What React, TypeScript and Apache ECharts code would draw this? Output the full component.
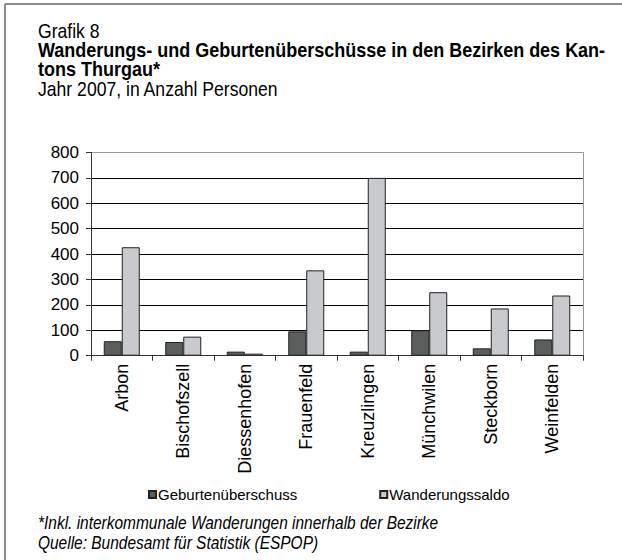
import React, { useEffect, useRef } from "react";
import * as echarts from "echarts";

const categories = ["Arbon", "Bischofszell", "Diessenhofen", "Frauenfeld", "Kreuzlingen", "Münchwilen", "Steckborn", "Weinfelden"];
const geburten = [57, 54, 16, 96, 16, 100, 29, 64];
const wanderung = [427, 75, 8, 336, 700, 250, 186, 237];
const seriesNames = ["Geburtenüberschuss", "Wanderungssaldo"];
const yTicks = { min: 0, max: 800, interval: 100 };

const FONT = "'Liberation Sans', Arial, sans-serif";

export default function App() {
  const ref = useRef<HTMLDivElement>(null);
  useEffect(() => {
    if (!ref.current) return;
    const chart = echarts.init(ref.current, undefined, { renderer: "svg" });
    const txt = (x: number, baseline: number, text: string, size: number, sx: number, weight = "normal", style = "normal") => ({
      type: "text",
      x,
      y: baseline + Math.round(size * 0.22),
      scaleX: sx,
      style: { text, fontFamily: FONT, fontSize: size, fontWeight: weight, fontStyle: style, fill: "#000", verticalAlign: "bottom" },
    });
    chart.setOption({
      animation: false,
      backgroundColor: "#fff",
      textStyle: { fontFamily: FONT },
      graphic: [
        { type: "line", shape: { x1: 5, y1: 4, x2: 622, y2: 4 }, style: { stroke: "#8a8a8a", lineWidth: 2 } },
        { type: "line", shape: { x1: 5, y1: 4, x2: 5, y2: 560 }, style: { stroke: "#8a8a8a", lineWidth: 2 } },
        txt(38, 37, "Grafik 8", 20, 0.88),
        txt(38, 56, "Wanderungs- und Geburtenüberschüsse in den Bezirken des Kan-", 20, 0.9, "bold"),
        txt(38, 75, "tons Thurgau*", 20, 0.9, "bold"),
        txt(38, 95, "Jahr 2007, in Anzahl Personen", 20, 0.88),
        txt(38, 528, "*Inkl. interkommunale Wanderungen innerhalb der Bezirke", 18, 0.86, "normal", "italic"),
        txt(38, 548, "Quelle: Bundesamt für Statistik (ESPOP)", 18, 0.86, "normal", "italic"),
      ],
      grid: { left: 91, right: 39, top: 152.5, bottom: 204.3, containLabel: false },
      legend: {
        left: 143,
        top: 482,
        itemWidth: 7,
        itemHeight: 7,
        itemGap: 82,
        icon: "rect",
        textStyle: { fontSize: 15, fontFamily: FONT, color: "#000", padding: [0, 0, 0, -3] },
        data: seriesNames,
      },
      xAxis: [
        {
          type: "category",
          data: categories,
          axisLine: { lineStyle: { color: "#333", width: 1 } },
          axisTick: { show: true, length: 5, lineStyle: { color: "#333" } },
          axisLabel: { rotate: 90, fontSize: 18, color: "#000", margin: 8, fontFamily: FONT },
          splitLine: { show: false },
        },
      ],
      yAxis: [
        {
          type: "value",
          min: yTicks.min,
          max: yTicks.max,
          interval: yTicks.interval,
          axisLine: { show: true, lineStyle: { color: "#333" } },
          axisTick: { show: true, length: 5, lineStyle: { color: "#333" } },
          axisLabel: { fontSize: 17, color: "#000", margin: 12, fontFamily: FONT },
          splitLine: {
            show: true,
            lineStyle: { color: ["#888", "#000", "#000", "#000", "#000", "#000", "#000", "#000", "#999"], width: 1 },
          },
        },
        {
          type: "value",
          position: "right",
          min: yTicks.min,
          max: yTicks.max,
          interval: yTicks.interval,
          axisLine: { show: true, lineStyle: { color: "#999" } },
          axisTick: { show: false },
          axisLabel: { show: false },
          splitLine: { show: false },
        },
      ],
      series: [
        {
          name: seriesNames[0],
          type: "bar",
          data: geburten,
          barWidth: 18,
          barGap: "0%",
          itemStyle: { color: "#5a5f5e", borderColor: "#222", borderWidth: 1 },
        },
        {
          name: seriesNames[1],
          type: "bar",
          data: wanderung,
          barWidth: 18,
          barGap: "0%",
          itemStyle: { color: "#c9cacd", borderColor: "#222", borderWidth: 1 },
        },
      ],
    });
    return () => chart.dispose();
  }, []);
  return (
    <div
      ref={ref}
      style={{ position: "absolute", left: 0, top: 0, width: 622, height: 560, background: "#fff" }}
    />
  );
}
